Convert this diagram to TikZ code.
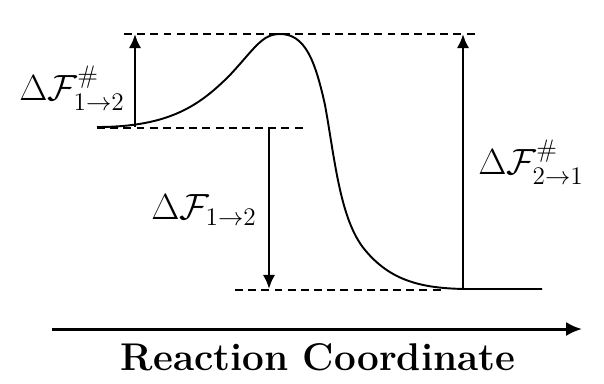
\documentclass[tikz,border=0pt]{standalone}
\usepackage{amsmath,amssymb}
\usepackage{tikz}
\usetikzlibrary{arrows.meta,positioning}

\begin{document}
\begin{tikzpicture}[x=0.02cm,y=-0.02cm,
      level/.style={dashed,dash pattern=on 4.5pt off 3pt,line width=0.9pt},
      arr/.style={-{Latex[length=8pt,width=7pt]},line width=1.4pt},
      lbl/.style={font=\fontsize{21}{24}\selectfont,inner sep=0pt}]
      \useasboundingbox (0,0) rectangle (604,383);
      % levels
      \coordinate (s1) at (97,128);
      \coordinate (ts) at (124,34);
      \coordinate (te) at (476,34);
      \coordinate (me) at (303,128);
      \coordinate (bs) at (235,290);
      \coordinate (be) at (443,290);
      \draw[level] (ts)--(te);
      \draw[level] (s1)--(me);
      \draw[level] (bs)--(be);
      % free energy profile
      \draw[line width=1.1pt] (97,127) .. controls (170,127) and (200,105) .. (230,75)
        .. controls (255,48) and (262,34) .. (280,34)
        .. controls (305,34) and (315,60) .. (325,105)
        .. controls (335,160) and (340,220) .. (365,250)
        .. controls (390,280) and (420,289) .. (470,289) -- (542,289);
      % barriers
      \coordinate (a1) at (135,127);
      \coordinate (a1t) at (135,34);
      \coordinate (a2) at (269,128);
      \coordinate (a2b) at (269,289);
      \coordinate (a3) at (463,288);
      \coordinate (a3t) at (463,34);
      \draw[arr] (a1)--(a1t);
      \draw[arr] (a2)--(a2b);
      \draw[arr] (a3)--(a3t);
      \node[lbl,anchor=east] (f12) at (125,88) {$\Delta\mathcal{F}^{\#}_{1\rightarrow2}$};
      \node[lbl,anchor=east] (d12) at (257,210) {$\Delta\mathcal{F}_{1\rightarrow2}$};
      \node[lbl,anchor=west] (f21) at (478,162) {$\Delta\mathcal{F}^{\#}_{2\rightarrow1}$};
      % axis
      \coordinate (x0) at (52,329);
      \coordinate (x1) at (582,329);
      \draw[-{Latex[length=9pt,width=8pt]},line width=1.7pt] (x0)--(x1);
      \node[font=\fontsize{22}{26}\selectfont\bfseries,anchor=base] (rc) at (318,370) {Reaction Coordinate};
    \end{tikzpicture}
\end{document}
